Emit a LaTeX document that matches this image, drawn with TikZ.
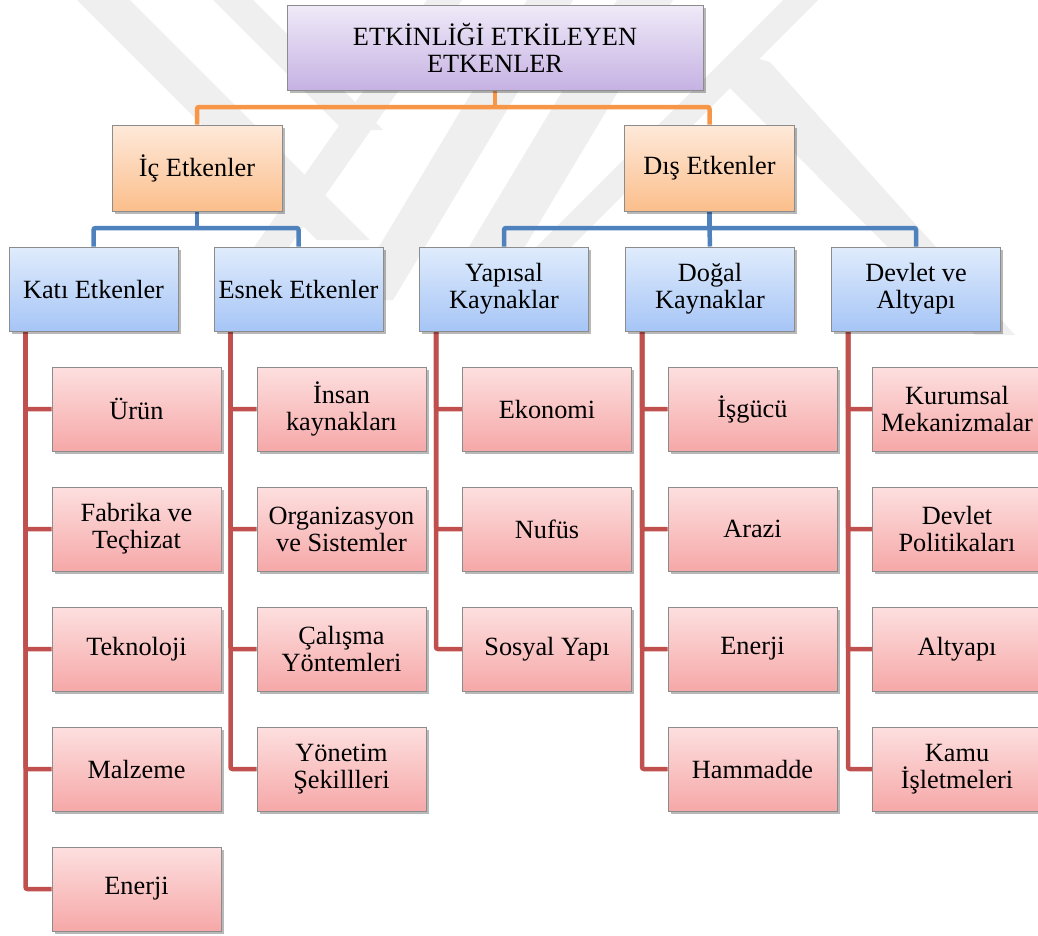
\documentclass[tikz,border=0pt]{standalone}
\usepackage{fontspec}
\setmainfont{Liberation Serif}
\newfontfamily\boxfont{Liberation Serif}
\usetikzlibrary{shadows,backgrounds}
\definecolor{oline}{HTML}{F79646}
\definecolor{bline}{HTML}{4F81BD}
\definecolor{rline}{HTML}{C0504D}
\definecolor{bordergray}{HTML}{8C8C8C}
\definecolor{wmark}{HTML}{EFEFEF}
\definecolor{ptop}{HTML}{EFEAF8}
\definecolor{pbot}{HTML}{C6B2E3}
\definecolor{otop}{HTML}{FEE9DA}
\definecolor{obot}{HTML}{FBBE8B}
\definecolor{btop}{HTML}{E0ECFC}
\definecolor{bbot}{HTML}{A6C5F6}
\definecolor{rtop}{HTML}{FDDFDF}
\definecolor{rbot}{HTML}{F6A8A8}
\tikzset{
  basebox/.style={draw=bordergray, line width=1pt, inner sep=0pt, align=center,
    font=\boxfont\fontsize{26.3}{27}\selectfont,
    drop shadow={shadow xshift=2.5pt, shadow yshift=-3pt, opacity=0.28, fill=black}},
  topbox/.style={basebox, minimum width=416pt, minimum height=85pt, top color=ptop, bottom color=pbot},
  lvlone/.style={basebox, minimum width=170pt, minimum height=86pt, top color=otop, bottom color=obot},
  lvltwo/.style={basebox, minimum width=169pt, minimum height=84pt, top color=btop, bottom color=bbot},
  leafbox/.style={basebox, minimum width=169pt, minimum height=84pt, top color=rtop, bottom color=rbot},
  orangeconn/.style={draw=oline, line width=4.5pt, rounded corners=2pt},
  blueconn/.style={draw=bline, line width=4.5pt, rounded corners=2pt},
  redconn/.style={draw=rline, line width=4.5pt, rounded corners=2pt},
}
\begin{document}
\begin{tikzpicture}[x=1pt, y=-1pt]
\useasboundingbox (0,0) rectangle (1038,935);
\clip (0,0) rectangle (1038,935);
% top
\node[topbox] (top) at (495,47.5) {ETKİNLİĞİ ETKİLEYEN\\ETKENLER};
% level one
\node[lvlone] (ic) at (197,168) {İç Etkenler};
\node[lvlone] (dis) at (709.5,168) {Dış Etkenler};
% level two
\node[lvltwo] (kati) at (93.5,289) {Katı Etkenler};
\node[lvltwo] (esnek) at (298.5,289) {Esnek Etkenler};
\node[lvltwo] (yapisal) at (504,289) {Yapısal\\Kaynaklar};
\node[lvltwo] (dogal) at (710,289) {Doğal\\Kaynaklar};
\node[lvltwo] (devlet) at (916,289) {Devlet ve\\Altyapı};
% leaves: Kati
\node[leafbox] (k1) at (136.5,409) {Ürün};
\node[leafbox] (k2) at (136.5,529) {Fabrika ve\\Teçhizat};
\node[leafbox] (k3) at (136.5,649) {Teknoloji};
\node[leafbox] (k4) at (136.5,769) {Malzeme};
\node[leafbox] (k5) at (136.5,889) {Enerji};
% Esnek
\node[leafbox] (e1) at (341.5,409) {İnsan\\kaynakları};
\node[leafbox] (e2) at (341.5,529) {Organizasyon\\ve Sistemler};
\node[leafbox] (e3) at (341.5,649) {Çalışma\\Yöntemleri};
\node[leafbox] (e4) at (341.5,769) {Yönetim\\Şekillleri};
% Yapisal
\node[leafbox] (y1) at (547,409) {Ekonomi};
\node[leafbox] (y2) at (547,529) {Nufüs};
\node[leafbox] (y3) at (547,649) {Sosyal Yapı};
% Dogal
\node[leafbox] (d1) at (752.5,409) {İşgücü};
\node[leafbox] (d2) at (752.5,529) {Arazi};
\node[leafbox] (d3) at (752.5,649) {Enerji};
\node[leafbox] (d4) at (752.5,769) {Hammadde};
% Devlet
\node[leafbox] (v1) at (957,409) {Kurumsal\\Mekanizmalar};
\node[leafbox] (v2) at (957,529) {Devlet\\Politikaları};
\node[leafbox] (v3) at (957,649) {Altyapı};
\node[leafbox] (v4) at (957,769) {Kamu\\İşletmeleri};

\begin{scope}[on background layer]
  % faint watermark
  \fill[wmark] (77,0) -- (130,0) -- (370,240) -- (317,240) -- cycle;
  \fill[wmark] (213,0) -- (253,0) -- (383,130) -- (343,130) -- cycle;
  \fill[wmark] (427,0) -- (462,0) -- (252,300) -- (217,300) -- cycle;
  \fill[wmark] (527,0) -- (573,0) -- (393,300) -- (347,300) -- cycle;
  \fill[wmark] (617,0) -- (673,0) -- (523,250) -- (467,250) -- cycle;
  \fill[wmark] (783,0) -- (818,0) -- (555,263) -- (520,263) -- cycle;
  \fill[wmark] (745,55) -- (770,62) -- (1015,335) -- (975,335) -- (722,80) -- cycle;
  % connectors
  \coordinate (obus) at (495,107);
  \coordinate (ibus) at (197,228);
  \coordinate (dbus) at (709.5,228);
  \draw[orangeconn] (top.south) -- (obus);
  \draw[orangeconn] (ic.north) |- (obus) -| (dis.north);
  \draw[blueconn] (ic.south) -- (ibus);
  \draw[blueconn] (kati.north) |- (ibus) -| (esnek.north);
  \draw[blueconn] (dis.south) -- (dbus);
  \draw[blueconn] (yapisal.north) |- (dbus) -| (devlet.north);
  \draw[blueconn] (dbus) -- (dogal.north);
  \foreach \p/\c in {kati/k1,kati/k2,kati/k3,kati/k4,kati/k5,
                     esnek/e1,esnek/e2,esnek/e3,esnek/e4,
                     yapisal/y1,yapisal/y2,yapisal/y3,
                     dogal/d1,dogal/d2,dogal/d3,dogal/d4,
                     devlet/v1,devlet/v2,devlet/v3,devlet/v4}
    \draw[redconn] ([xshift=17pt]\p.south west) |- (\c.west);
\end{scope}
\end{tikzpicture}
\end{document}
